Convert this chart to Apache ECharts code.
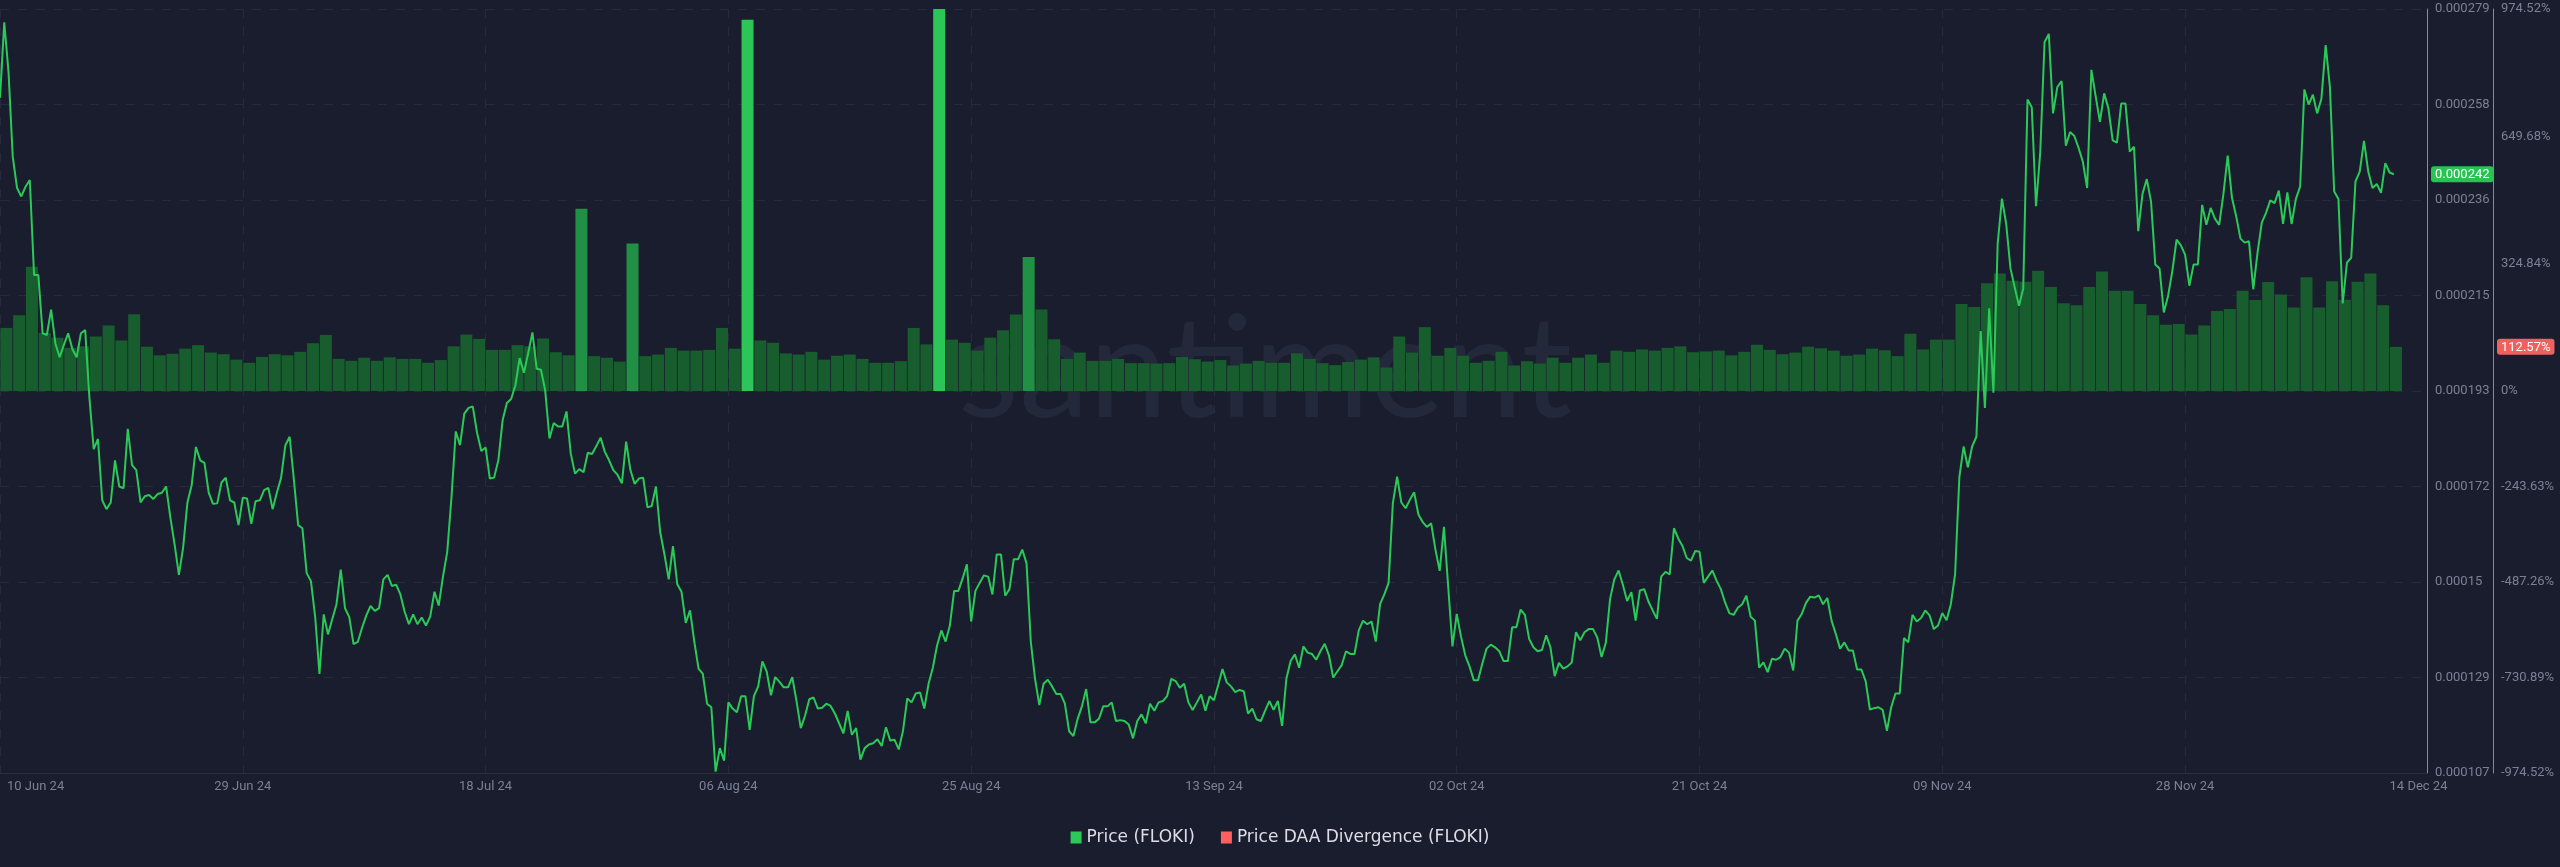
<!DOCTYPE html>
<html>
<head>
<meta charset="utf-8">
<script src="https://cdn.jsdelivr.net/npm/echarts@6/dist/echarts.min.js"></script>
<style>
html,body{margin:0;padding:0;background:#1a1d2d;}
#chart{width:2560px;height:867px;}
</style>
</head>
<body>
<div id="chart"></div>
<script>
// ---- DATA ----
// Price (FLOKI), in millionths of USD, one sample every 8 hours starting 10 Jun 2024 00:00
const priceStepDays = 1 / 3;
const priceMicro = [
259,276,264.8,245.7,238.7,236.8,239,240.5,219.1,219.1,
206,205.6,211.3,203.7,200.6,203.4,206,202.4,200.6,206,
206.7,191.4,179.9,182.2,168.4,166.4,167.9,177.4,171.5,171.1,
184.5,176.3,175.2,167.9,169.3,169.6,168.7,169.8,170.1,171.5,
164.5,158.4,151.6,157.8,167.9,171.8,180.4,177.4,176.8,170.1,
167.6,167.7,172.4,173.5,168.4,167.9,162.8,169,168.8,163.1,
168.2,168.4,170.7,171.2,166.4,170.1,173.5,180.8,182.7,173,
162.8,162.1,152,150.2,142.1,129.3,142.7,138.2,141.6,145,
152.8,144.1,142.1,136,136.5,139.7,142.5,144.6,143.5,144.1,
150.6,151.6,149.1,149.4,147.2,143.3,140.5,142.7,140.5,142,
140.2,142.2,147.8,144.7,151.2,156.8,169.1,183.9,180.8,187.9,
189.2,189.5,183.6,179.5,180.3,173.3,173.5,177.4,186.4,190.3,
191.2,194.3,200.4,197.1,201.5,206.2,198,197.8,193.1,182.3,
185.8,185,185,188.4,178.9,174.4,175.4,174.7,179.1,178.8,
180.6,182.5,179.3,177.4,175.2,174.1,172.2,181.6,175.2,172.1,
173.3,173.5,166.8,167.1,171.5,161.2,156.2,150.6,158.1,149.5,
147.8,140.8,143.6,136.6,130.5,129.3,122.6,121.8,107.3,112.6,
109.8,122.9,121.5,120.7,124.3,124.3,116.7,124.3,126.5,132.1,
129.8,124.5,128.6,127.5,126.3,126.3,128.6,123.2,117.1,119.9,
123.6,124,121.5,121.7,122.6,122.1,120.4,118.2,115.9,121,
115.6,117.1,110,112.6,113.4,113.7,114.6,113.1,117.3,114.3,
114.5,112.3,116.5,123.8,122.9,124.9,125.1,121.5,127.1,130.7,
135.7,139.1,136.6,140.2,148,148,150.8,154,141.1,148,
149.8,151.5,151.2,147.2,156.2,156.2,146.9,148.4,155.1,155.1,
157.3,154.2,136.6,128.2,122.3,127.1,128,126.5,124.8,124.8,
122.6,116.4,115.3,119.2,122,125.9,118.4,118.4,119.2,122,
122,122.9,118.7,118.9,118.7,117.9,114.8,118.7,120.2,118.2,
122.6,121,122.9,123.2,124.3,128.2,127.7,126.2,127.1,122.9,
121.2,122.9,124.7,121,124.3,123.4,126.8,130.4,127.4,126.5,
125.2,125.7,125.4,120.4,121.5,119.1,118.7,121,123.2,121.2,
123.2,117.6,128.2,132.2,133.7,130.7,135.5,134.1,133.8,132.5,
134.4,136.1,133.5,128.5,129.9,131.3,134.4,133.8,133.8,139.1,
141.3,140.5,141.1,136.6,145,147.2,149.8,167.7,173.7,167.9,
166.6,168.5,170.2,165.2,163.5,162.4,163.2,157.3,152.5,162.4,
148.9,135.5,142.8,137.7,133.5,131,127.9,127.9,131.6,135,
135.9,135.3,134.4,132.2,132.2,139.8,139.8,143.8,142.6,137.2,
135.3,134.4,134.7,138,135.3,128.8,131.8,130.5,131,131.9,
138.7,136.9,138.7,139.4,139.4,137.5,133.1,136.3,146.2,150.6,
152.6,149.4,145.7,147.7,141.3,148.1,148.4,145.6,143.6,141.7,
151.2,152.3,151.7,162.1,159.8,158.1,155.4,154.8,157,156.8,
149.8,151.2,152.6,150.3,148.4,145.4,143,142.6,144.2,145,
146.9,142.2,141.3,130.7,131.9,129.7,132.7,132.5,133.1,135,
134.1,130.1,141.3,142.8,145.3,146.7,146.5,147,145,146.4,
141.3,138.3,135,136.4,134.6,134.6,130.3,130.3,127.7,121.3,
121.6,121.8,121.2,116.5,121.8,124.9,124.9,137.4,136.4,142.6,
141.1,141.9,143.6,142.5,139.4,140.2,143,141.4,145,151.7,
173.6,180.5,175.8,180.5,182.7,206.5,189.2,211.6,192.6,226.2,
236.3,230.6,220.6,216.3,212.2,216.1,258.6,256.9,234.6,246.9,
271.5,273.4,255.5,261.4,262.8,248.2,251.3,250.4,247.7,244.6,
238.7,265.3,259.4,253.6,260,256.6,249.4,248.9,257.7,257.7,
246.9,248,229,237.4,240.7,235.7,221.5,220.6,210.7,214.4,
220,227.1,225.8,223.7,216.7,221.5,221.5,234.9,230.4,234.2,
231.8,230.4,237.4,246,236.5,232.3,227.3,226.4,226.7,215.9,
224.1,230.9,233.1,235.9,235.3,238.1,230.6,237.7,230.6,236.2,
239,260.9,257.5,259.7,255.5,258.8,270.9,261.4,237.9,236.2,
212.7,221.9,223,240.2,242.4,249.3,242.4,238.7,239.6,237.6,
244.3,242.2,241.8
];

// Price DAA Divergence (FLOKI), %, one value per day starting 10 Jun 2024
const divergence = [
161,193,317,148,136,110,114,139,167,129,
196,113,91,95,108,117,98,94,80,72,
87,94,91,100,122,143,82,77,85,77,
86,82,82,72,79,114,144,133,105,105,
117,114,134,99,91,465,89,85,75,376,
89,93,110,103,103,105,161,108,947,129,
123,96,93,100,80,90,93,82,72,72,
76,161,119,1100,131,123,103,136,155,195,
342,208,132,82,98,77,77,82,71,71,
70,71,87,81,75,79,65,70,77,72,
72,96,82,71,66,74,80,86,60,139,
98,163,90,110,90,72,77,100,65,76,
70,85,72,85,93,72,103,100,106,103,
110,114,99,101,103,91,100,118,105,94,
98,113,109,103,90,93,108,104,89,146,
106,131,131,222,214,275,300,281,279,307,
265,224,219,265,305,256,256,222,193,169,
171,144,167,204,209,256,232,278,246,213,
290,213,280,233,279,300,219,112.57
];

// X axis: days since 10 Jun 2024
const xTickDays = [0, 19, 38, 57, 76, 95, 114, 133, 152, 171, 187];
const xTickLabels = ['10 Jun 24', '29 Jun 24', '18 Jul 24', '06 Aug 24', '25 Aug 24', '13 Sep 24',
                     '02 Oct 24', '21 Oct 24', '09 Nov 24', '28 Nov 24', '14 Dec 24'];
const xGridStepDays = 19;
const xMaxDays = 189.93;

// Price axis tick labels
const priceTicks = [0.000107, 0.000129, 0.00015, 0.000172, 0.000193, 0.000215, 0.000236, 0.000258, 0.000279];
// Divergence axis
const divMax = 974.52;
const divStep = 243.63;
const divTicks = [-974.52, -730.89, -487.26, -243.63, 0, 324.84, 649.68, 974.52];

// ---- CHART ----
const C = {
  bg: '#1a1d2d',
  label: '#7b8096',
  grid: '#262a3c',
  green: '#2bc958',
  red: '#ef5f5c',
  barDark: '#175d2e',
  barMid: '#209045',
  barBright: '#2cc658'
};

function nearestIndex(arr, v) {
  let best = 0, bd = Infinity;
  arr.forEach((a, i) => { const d = Math.abs(a - v); if (d < bd) { bd = d; best = i; } });
  return best;
}

const priceData = priceMicro.map((v, k) => [k * priceStepDays, v * 1e-6]);
const barData = divergence.map((v, d) => [d + 0.5, v]);
const lastPrice = priceData[priceData.length - 1][1];
const lastDiv = divergence[divergence.length - 1];

const chart = echarts.init(document.getElementById('chart'), null, { renderer: 'canvas' });
chart.setOption({
  backgroundColor: C.bg,
  animation: false,
  textStyle: { fontFamily: 'Roboto' },
  graphic: [{
    type: 'text', x: 1265, y: 372, z: 0, silent: true,
    style: { text: 'santiment', fill: '#24283b', font: '400 141px Lato', align: 'center', verticalAlign: 'middle' }
  }],
  grid: { left: 0, right: 133, top: 9, bottom: 94, containLabel: false },
  legend: {
    left: 'center', top: 824,
    icon: 'rect', itemWidth: 11, itemHeight: 12, itemGap: 26,
    textStyle: { color: '#dcdee6', fontSize: 17, fontFamily: 'DejaVu Sans' },
    data: [
      { name: 'Price (FLOKI)', itemStyle: { color: C.green } },
      { name: 'Price DAA Divergence (FLOKI)', itemStyle: { color: '#ff5f5f' } }
    ]
  },
  xAxis: {
    type: 'value', min: 0, max: xMaxDays, interval: xGridStepDays,
    axisLine: { show: true, onZero: false, lineStyle: { color: '#2a2e41', width: 1 } },
    axisTick: { show: false },
    splitLine: { show: true, lineStyle: { color: C.grid, type: [9, 9], width: 1 } },
    axisLabel: {
      customValues: xTickDays,
      alignMinLabel: 'left', alignMaxLabel: 'left',
      color: C.label, fontSize: 13, margin: 7, fontFamily: 'Roboto',
      formatter: (v) => {
        const i = nearestIndex(xTickDays, v);
        return i === 0 ? '{first|' + xTickLabels[i] + '}' : xTickLabels[i];
      },
      rich: { first: { padding: [0, 0, 0, 7], color: C.label, fontSize: 13, fontFamily: 'Roboto' } }
    }
  },
  yAxis: [
    {
      type: 'value', name: '', position: 'right', offset: 66,
      min: -divMax, max: divMax, interval: divStep,
      axisLine: { show: true, onZero: false, lineStyle: { color: C.red, width: 1 } },
      axisTick: { show: false },
      splitLine: { show: false },
      axisLabel: {
        customValues: divTicks,
        color: C.label, fontSize: 13, margin: 8, fontFamily: 'Roboto',
        formatter: (v) => divTicks[nearestIndex(divTicks, v)] + '%'
      },
      axisPointer: {
        show: true, type: 'line', value: lastDiv, status: 'show', triggerTooltip: false,
        lineStyle: { opacity: 0 },
        label: {
          show: true, margin: 4, padding: [2, 4, 1, 4], fontSize: 13, fontFamily: 'Roboto',
          color: '#ffffff', backgroundColor: '#f0605d',
          formatter: (p) => p.value.toFixed(2) + '%'
        }
      }
    },
    {
      type: 'value', position: 'right', offset: 0, alignTicks: true,
      min: priceTicks[0], max: priceTicks[priceTicks.length - 1],
      axisLine: { show: true, onZero: false, lineStyle: { color: C.green, width: 1 } },
      axisTick: { show: false },
      splitLine: { show: true, lineStyle: { color: C.grid, type: [9, 9], width: 1 } },
      axisLabel: {
        color: C.label, fontSize: 13, margin: 8, fontFamily: 'Roboto',
        formatter: (v) => String(priceTicks[nearestIndex(priceTicks, v)])
      },
      axisPointer: {
        show: true, type: 'line', value: lastPrice, status: 'show', triggerTooltip: false,
        lineStyle: { opacity: 0 },
        label: {
          show: true, margin: 4, padding: [2, 4, 1, 4], fontSize: 13, fontFamily: 'Roboto',
          color: '#ffffff', backgroundColor: '#27c452',
          formatter: (p) => p.value.toFixed(6)
        }
      }
    }
  ],
  visualMap: {
    show: false, type: 'piecewise', seriesIndex: 0, dimension: 1,
    pieces: [
      { lt: 320, color: C.barDark },
      { gte: 320, lt: 600, color: C.barMid },
      { gte: 600, color: C.barBright }
    ]
  },
  series: [
    {
      name: 'Price DAA Divergence (FLOKI)', type: 'bar',
      xAxisIndex: 0, yAxisIndex: 0,
      data: barData, barWidth: '94%',
      itemStyle: { color: '#ff5f5f' },
      emphasis: { disabled: true }
    },
    {
      name: 'Price (FLOKI)', type: 'line',
      xAxisIndex: 0, yAxisIndex: 1,
      data: priceData, showSymbol: false, symbol: 'none',
      lineStyle: { color: C.green, width: 2 },
      itemStyle: { color: C.green },
      emphasis: { disabled: true }
    }
  ]
});
</script>
</body>
</html>
